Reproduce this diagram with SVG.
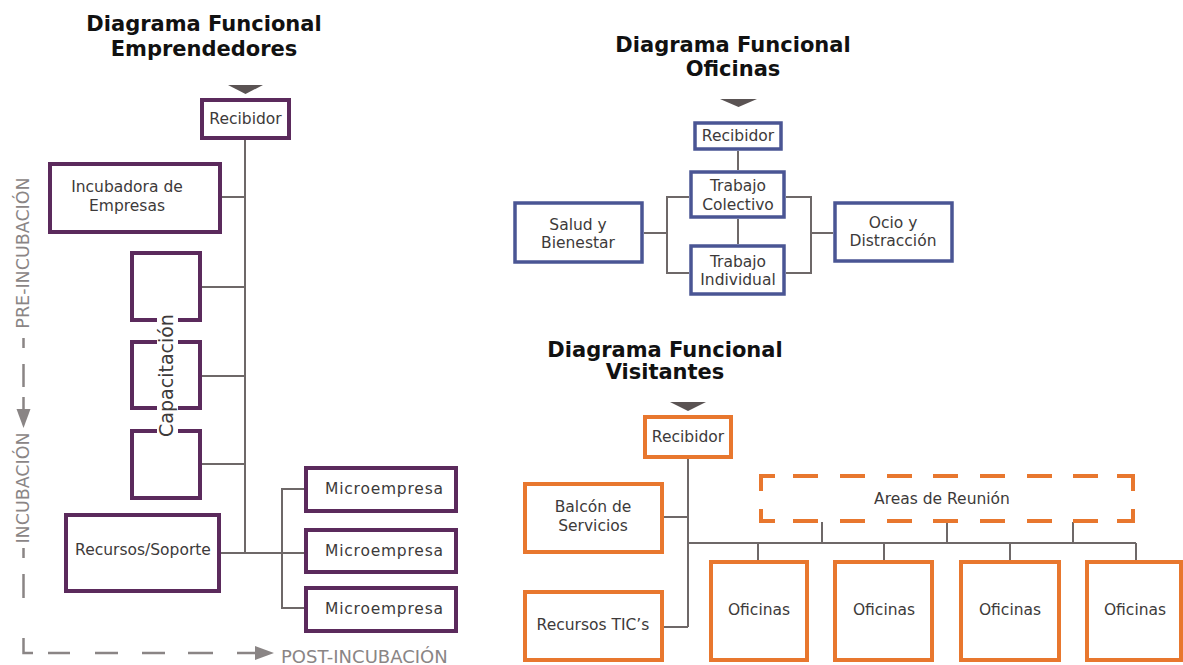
<svg xmlns="http://www.w3.org/2000/svg" width="1183" height="665" viewBox="0 0 1183 665">
  <style>
    .title { font-family: "DejaVu Sans", "Liberation Sans", sans-serif; font-weight: bold; font-size: 21px; fill: #111; text-anchor: middle; }
    .lbl { font-family: "DejaVu Sans", "Liberation Sans", sans-serif; font-size: 15.5px; fill: #3d3a3a; text-anchor: middle; }
    .axis-lbl { font-family: "DejaVu Sans", "Liberation Sans", sans-serif; font-size: 17px; fill: #8a8585; }
    .purple { fill: #fff; stroke: #5b2a5c; stroke-width: 4; }
    .blue { fill: #fff; stroke: #4a5594; stroke-width: 3.5; }
    .orange { fill: #fff; stroke: #e8772e; stroke-width: 4; }
    .open-purple { fill: none; stroke: #5b2a5c; stroke-width: 4; }
    .open-orange { fill: none; stroke: #e8772e; stroke-width: 4; }
    .conn { fill: none; stroke: #6e6868; stroke-width: 2; }
    .axis { fill: none; stroke: #8a8585; stroke-width: 2.5; }
    .entry { fill: #5a5353; }
  </style>
  <rect width="1183" height="665" fill="#fff"/>

  <!-- Titles -->
  <g id="title-emprendedores">
    <text class="title" x="204" y="31">Diagrama Funcional</text>
    <text class="title" x="204" y="56">Emprendedores</text>
  </g>
  <g id="title-oficinas">
    <text class="title" x="733" y="52">Diagrama Funcional</text>
    <text class="title" x="733" y="76">Oficinas</text>
  </g>
  <g id="title-visitantes">
    <text class="title" x="665" y="357">Diagrama Funcional</text>
    <text class="title" x="665" y="379">Visitantes</text>
  </g>

  <!-- Connectors -->
  <g id="connectors">
    <!-- Emprendedores -->
    <path class="conn" d="M245,140 V553"/>
    <path class="conn" d="M222,197 H245 M202,287 H245 M202,376 H245 M202,464 H245"/>
    <path class="conn" d="M221,553 H304"/>
    <path class="conn" d="M304,489 H282 V608 H304"/>
    <!-- Oficinas -->
    <path class="conn" d="M738,151 V170 M738,219 V244"/>
    <path class="conn" d="M689,197 H667 V273 H689 M644,233 H667"/>
    <path class="conn" d="M786,197 H811 V273 H786 M811,233 H833"/>
    <!-- Visitantes -->
    <path class="conn" d="M688,459 V627 M664,517 H688 M664,627 H688"/>
    <path class="conn" d="M688,543 H1136"/>
    <path class="conn" d="M758,543 V560 M884,543 V560 M1010,543 V560 M1136,543 V560"/>
    <path class="conn" d="M822,543 V522 M947,543 V522 M1073,543 V522"/>
  </g>

  <!-- Entry markers -->
  <g id="entries">
    <polygon class="entry" points="228,85 263,85 245.5,94"/>
    <polygon class="entry" points="720,99 757,99 738.5,107"/>
    <polygon class="entry" points="670,402 706,402 688,411"/>
  </g>

  <!-- Stage axis -->
  <g id="stage-axis">
    <text class="axis-lbl" text-anchor="middle" style="font-size:17.5px" transform="translate(29,253) rotate(-90)">PRE-INCUBACIÓN</text>
    <path class="axis" d="M23.5,338 V348 M23.5,364 V387 M23.5,397 V412"/>
    <polygon fill="#8a8585" points="16.5,409 30.5,409 23.5,428"/>
    <text class="axis-lbl" text-anchor="middle" style="font-size:17.5px" transform="translate(29,488) rotate(-90)">INCUBACIÓN</text>
    <path class="axis" d="M23.5,548 V558 M23.5,574 V598 M23.5,638 V653 H33"/>
    <path class="axis" d="M48,653 H70 M95,653 H118 M142,653 H165 M188,653 H213 M237,653 H258"/>
    <polygon fill="#8a8585" points="255,646 274,653 255,660"/>
    <text class="axis-lbl" x="281" y="663" style="font-size:18px">POST-INCUBACIÓN</text>
  </g>

  <!-- Emprendedores nodes -->
  <g id="e-recibidor">
    <rect class="purple" x="202" y="100" width="87" height="38"/>
    <text class="lbl" x="245.5" y="124">Recibidor</text>
  </g>
  <g id="e-incubadora">
    <rect class="purple" x="50" y="164" width="170" height="68"/>
    <text class="lbl" x="127" y="192">Incubadora de</text>
    <text class="lbl" x="127" y="211">Empresas</text>
  </g>
  <g id="e-capacitacion">
    <path class="open-purple" d="M157,320 H132 V253 H200 V320 H178"/>
    <path class="open-purple" d="M157,342 H132 V408 H157 M178,408 H200 V342 H178"/>
    <path class="open-purple" d="M157,431 H132 V498 H200 V431 H178"/>
    <text class="lbl" style="font-size:19px" transform="translate(173,375.5) rotate(-90)">Capacitación</text>
  </g>
  <g id="e-recursos">
    <rect class="purple" x="66" y="515" width="153" height="76"/>
    <text class="lbl" x="143" y="555">Recursos/Soporte</text>
  </g>
  <g id="e-micro-1">
    <rect class="purple" x="306" y="468" width="150" height="43"/>
    <text class="lbl" x="384" y="494" textLength="118">Microempresa</text>
  </g>
  <g id="e-micro-2">
    <rect class="purple" x="306" y="530" width="150" height="42"/>
    <text class="lbl" x="384" y="556" textLength="118">Microempresa</text>
  </g>
  <g id="e-micro-3">
    <rect class="purple" x="306" y="588" width="150" height="43"/>
    <text class="lbl" x="384" y="614" textLength="118">Microempresa</text>
  </g>

  <!-- Oficinas nodes -->
  <g id="o-recibidor">
    <rect class="blue" x="695" y="123" width="86" height="26"/>
    <text class="lbl" x="738" y="141">Recibidor</text>
  </g>
  <g id="o-colectivo">
    <rect class="blue" x="691" y="172" width="93" height="45"/>
    <text class="lbl" x="738" y="191">Trabajo</text>
    <text class="lbl" x="738" y="210">Colectivo</text>
  </g>
  <g id="o-individual">
    <rect class="blue" x="691" y="246" width="93" height="48"/>
    <text class="lbl" x="738" y="267">Trabajo</text>
    <text class="lbl" x="738" y="285">Individual</text>
  </g>
  <g id="o-salud">
    <rect class="blue" x="515" y="203" width="127" height="59"/>
    <text class="lbl" x="578" y="230">Salud y</text>
    <text class="lbl" x="578" y="248">Bienestar</text>
  </g>
  <g id="o-ocio">
    <rect class="blue" x="835" y="203" width="117" height="58"/>
    <text class="lbl" x="893" y="228">Ocio y</text>
    <text class="lbl" x="893" y="246">Distracción</text>
  </g>

  <!-- Visitantes nodes -->
  <g id="v-recibidor">
    <rect class="orange" x="645" y="417" width="86" height="40"/>
    <text class="lbl" x="688" y="442">Recibidor</text>
  </g>
  <g id="v-balcon">
    <rect class="orange" x="525" y="484" width="137" height="68"/>
    <text class="lbl" x="593" y="512">Balcón de</text>
    <text class="lbl" x="593" y="531">Servicios</text>
  </g>
  <g id="v-tics">
    <rect class="orange" x="525" y="592" width="137" height="68"/>
    <text class="lbl" x="593" y="630">Recursos TIC’s</text>
  </g>
  <g id="v-reunion">
    <path class="open-orange" d="M761,491 V476 H775 M793,476 H818 M840,476 H865 M887,476 H912 M933,476 H958 M980,476 H1005 M1027,476 H1052 M1073,476 H1098 M1117,476 H1133 V491"/>
    <path class="open-orange" d="M761,509 V521 H775 M793,521 H818 M840,521 H865 M887,521 H912 M933,521 H958 M980,521 H1005 M1027,521 H1052 M1073,521 H1098 M1117,521 H1133 V509"/>
    <text class="lbl" x="942" y="504">Areas de Reunión</text>
  </g>
  <g id="v-oficinas-1">
    <rect class="orange" x="711" y="562" width="96" height="98"/>
    <text class="lbl" x="759" y="615">Oficinas</text>
  </g>
  <g id="v-oficinas-2">
    <rect class="orange" x="835" y="562" width="97" height="98"/>
    <text class="lbl" x="884" y="615">Oficinas</text>
  </g>
  <g id="v-oficinas-3">
    <rect class="orange" x="961" y="562" width="98" height="98"/>
    <text class="lbl" x="1010" y="615">Oficinas</text>
  </g>
  <g id="v-oficinas-4">
    <rect class="orange" x="1087" y="562" width="94" height="98"/>
    <text class="lbl" x="1135" y="615">Oficinas</text>
  </g>
</svg>
